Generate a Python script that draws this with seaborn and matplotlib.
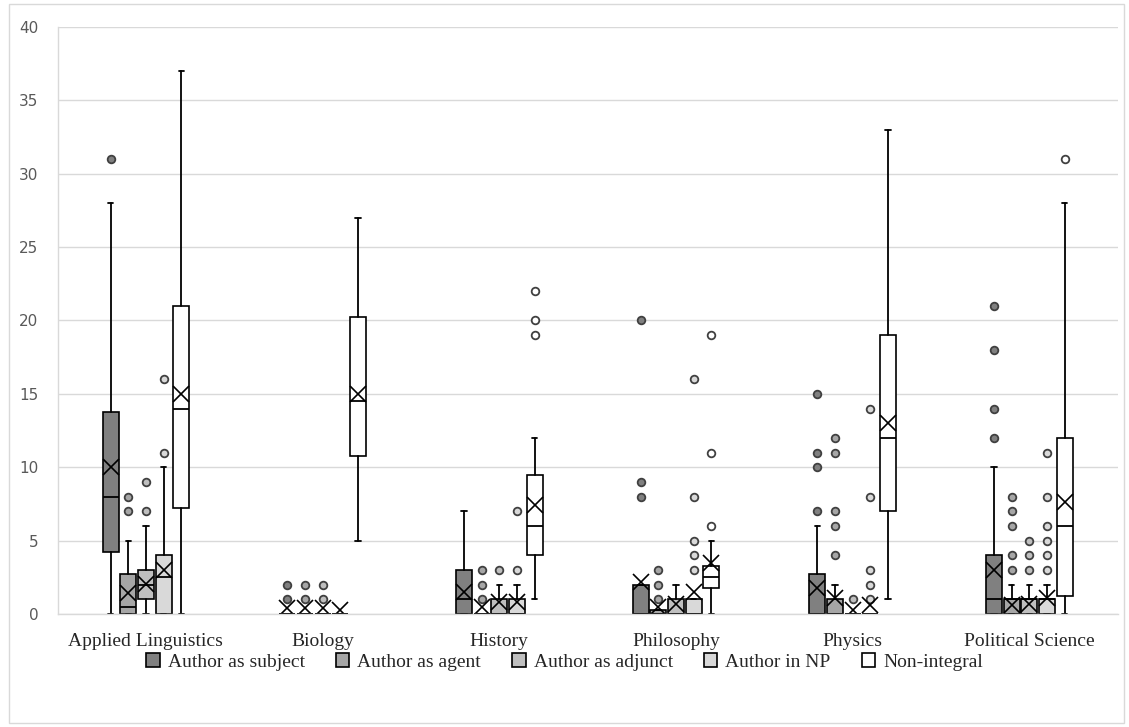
import numpy as np
import matplotlib
matplotlib.use("Agg")
import matplotlib.pyplot as plt
from matplotlib.patches import Patch, Rectangle
import seaborn as sns

categories = ["Applied Linguistics", "Biology", "History", "Philosophy", "Physics", "Political Science"]
series = ["Author as subject", "Author as agent", "Author as adjunct", "Author in NP", "Non-integral"]
colors = ["#808080", "#a6a6a6", "#bfbfbf", "#d9d9d9", "#ffffff"]

# one row per category, one value per series (subject, agent, adjunct, NP, non-integral)
whis_low = [
    [0, 0, 0, 0, 0],
    [0, 0, 0, 0, 5],
    [0, 0, 0, 0, 1],
    [0, 0, 0, 0, 0],
    [0, 0, 0, 0, 1],
    [0, 0, 0, 0, 0],
]
q1 = [
    [4.25, 0, 1, 0, 7.25],
    [0, 0, 0, 0, 10.75],
    [0, 0, 0, 0, 4],
    [0, 0, 0, 0, 1.75],
    [0, 0, 0, 0, 7],
    [0, 0, 0, 0, 1.25],
]
median = [
    [8, 0.5, 2, 2.5, 14],
    [0, 0, 0, 0, 14.5],
    [1, 0, 0, 0, 6],
    [0, 0, 0, 0, 2.5],
    [0, 0, 0, 0, 12],
    [1, 1, 1, 1, 6],
]
q3 = [
    [13.75, 2.75, 3, 4, 21],
    [0, 0, 0, 0, 20.25],
    [3, 0, 1, 1, 9.5],
    [2, 0.25, 1, 1, 3.25],
    [2.75, 1, 0, 0, 19],
    [4, 1, 1, 1, 12],
]
whis_high = [
    [28, 5, 6, 10, 37],
    [0, 0, 0, 0, 27],
    [7, 0, 2, 2, 12],
    [2, 0.25, 2, 1, 5],
    [6, 2, 0, 0, 33],
    [10, 2, 2, 2, 28],
]
means = [
    [10, 1.4, 2.05, 3.0, 15],
    [0.4, 0.4, 0.4, 0.25, 15],
    [1.5, 0.45, 0.8, 0.8, 7.4],
    [2.2, 0.5, 0.65, 1.5, 3.5],
    [1.8, 1.1, 0.3, 0.6, 13],
    [3, 0.6, 0.7, 1.1, 7.6],
]
outliers = [
    [[31], [7, 8], [7, 9], [11, 16], []],
    [[1, 2], [1, 2], [1, 2], [], []],
    [[], [1, 2, 3], [3], [3, 7], [19, 20, 22]],
    [[8, 9, 20], [1, 2, 3], [], [3, 4, 5, 8, 16], [6, 11, 19]],
    [[7, 10, 11, 15], [4, 6, 7, 11, 12], [1], [1, 2, 3, 8, 14], []],
    [[12, 14, 18, 21], [3, 4, 6, 7, 8], [3, 4, 5], [3, 4, 5, 6, 8, 11], [31]],
]

sns.set_theme(style="whitegrid")
plt.rcParams["font.family"] = ["Liberation Serif", "DejaVu Serif"]

fig = plt.figure(figsize=(11.29, 7.27), dpi=100)
ax = fig.add_axes([0.051, 0.1554, 0.939, 0.8076])

step = 0.1
width = 0.09
for s, name in enumerate(series):
    stats = []
    pos = []
    for c in range(len(categories)):
        stats.append(dict(
            whislo=whis_low[c][s], q1=q1[c][s], med=median[c][s], q3=q3[c][s],
            whishi=whis_high[c][s], mean=means[c][s], fliers=np.array(outliers[c][s], dtype=float),
        ))
        pos.append(c + (s - 2) * step)
    ax.bxp(
        stats, positions=pos, widths=width, patch_artist=True, showmeans=True,
        capwidths=0.03, manage_ticks=False,
        boxprops=dict(facecolor=colors[s], edgecolor="black", linewidth=1.2),
        medianprops=dict(color="black", linewidth=1.3),
        whiskerprops=dict(color="black", linewidth=1.3),
        capprops=dict(color="black", linewidth=1.3),
        meanprops=dict(marker="x", markersize=11, markeredgecolor="black", markeredgewidth=1.2),
        flierprops=dict(marker="o", markersize=5.5, markerfacecolor=colors[s],
                        markeredgecolor="#404040", markeredgewidth=1.3),
    )

ax.set_xlim(-0.5, len(categories) - 0.5)
ax.set_ylim(0, 40)
ax.set_yticks(range(0, 41, 5))
ax.set_xticks(range(len(categories)))
ax.set_xticklabels(categories, fontsize=14, color="#262626")
for lab in ax.get_yticklabels():
    lab.set_fontfamily("DejaVu Sans")
    lab.set_fontsize(11)
    lab.set_color("#595959")
ax.tick_params(axis="x", length=0, pad=14)
ax.tick_params(axis="y", length=0, pad=14)
ax.grid(axis="y", color="#d9d9d9", linewidth=1)
ax.grid(axis="x", visible=False)
ax.set_facecolor("white")
for side in ["top", "right"]:
    ax.spines[side].set_visible(False)
ax.spines["left"].set_color("#d9d9d9")
ax.spines["bottom"].set_color("#d9d9d9")
ax.spines["left"].set_linewidth(1)
ax.spines["bottom"].set_linewidth(1)

handles = [Patch(facecolor=colors[i], edgecolor="black", linewidth=1.2, label=series[i]) for i in range(len(series))]
fig.legend(handles=handles, loc="center", bbox_to_anchor=(0.5, 0.089), ncol=5, frameon=False,
           fontsize=14, handlelength=0.7, handleheight=0.7, handletextpad=0.4, columnspacing=1.6,
           labelcolor="#262626")

fig.patches.append(Rectangle((0.008, 0.006), 0.988, 0.988, transform=fig.transFigure,
                             fill=False, edgecolor="#d9d9d9", linewidth=1))

fig.savefig("out.png", dpi=100, facecolor="white")
